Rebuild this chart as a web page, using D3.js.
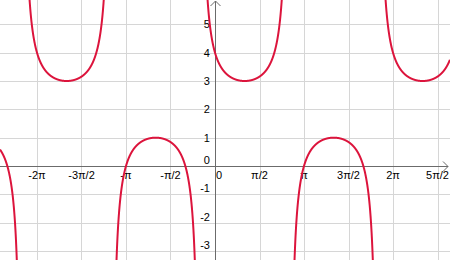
<!DOCTYPE html>
<html>
<head>
<meta charset="utf-8">
<script src="https://cdn.jsdelivr.net/npm/d3@7"></script>
<style>
  html, body { margin: 0; padding: 0; background: #fff; }
  svg { display: block; }
</style>
</head>
<body>
<div id="chart"></div>
<script>
const PI = Math.PI;

// x grid / tick positions (multiples of pi/2) and their labels
const xTickValues = [-2 * PI, -3 * PI / 2, -PI, -PI / 2, PI / 2, PI, 3 * PI / 2, 2 * PI, 5 * PI / 2];
const xTickLabels = ["-2π", "-3π/2", "-π", "-π/2", "π/2", "π", "3π/2", "2π", "5π/2"];
const yTickValues = [-3, -2, -1, 0, 1, 2, 3, 4, 5];
const yTickLabels = ["-3", "-2", "-1", "0", "1", "2", "3", "4", "5"];

// plotted function y = shift + amplitude / sin(x + phase)
const curveShift = 2;
const curveAmplitude = 1;
const curvePhase = PI / 6;

const width = 450;
const height = 260;

const x = d3.scaleLinear()
    .domain([-7.589, 8.295])
    .range([0, width]);

const y = d3.scaleLinear()
    .domain([-3.318, 5.859])
    .range([height, 0]);

const svg = d3.select("#chart")
    .append("svg")
    .attr("width", width)
    .attr("height", height);

// grid
svg.append("g")
    .selectAll("line")
    .data(xTickValues)
    .join("line")
    .attr("x1", d => Math.round(x(d)) + 0.5)
    .attr("x2", d => Math.round(x(d)) + 0.5)
    .attr("y1", 0)
    .attr("y2", height)
    .attr("stroke", "#d6d6d6")
    .attr("stroke-width", 1);

svg.append("g")
    .selectAll("line")
    .data(yTickValues.filter(d => d !== 0))
    .join("line")
    .attr("x1", 0)
    .attr("x2", width)
    .attr("y1", d => Math.round(y(d)) + 0.5)
    .attr("y2", d => Math.round(y(d)) + 0.5)
    .attr("stroke", "#d6d6d6")
    .attr("stroke-width", 1);

// axes
const x0 = Math.round(x(0)) + 0.5;
const y0 = Math.round(y(0)) + 0.5;
const axisColor = "#6b6b6b";

svg.append("line")
    .attr("x1", 0).attr("x2", width - 2)
    .attr("y1", y0).attr("y2", y0)
    .attr("stroke", axisColor);

svg.append("line")
    .attr("x1", x0).attr("x2", x0)
    .attr("y1", 1).attr("y2", height)
    .attr("stroke", axisColor);

// arrow heads
svg.append("path")
    .attr("d", `M${width - 7},${y0 - 5}L${width - 2},${y0}L${width - 7},${y0 + 5}`)
    .attr("fill", "none")
    .attr("stroke", axisColor);

svg.append("path")
    .attr("d", `M${x0 - 5},${6}L${x0},${1}L${x0 + 5},${6}`)
    .attr("fill", "none")
    .attr("stroke", axisColor);

// tick labels
const font = "'Liberation Sans', Arial, sans-serif";

svg.append("g")
    .selectAll("text")
    .data(xTickValues)
    .join("text")
    .attr("x", d => x(d))
    .attr("y", y(0) + 13)
    .attr("text-anchor", "middle")
    .attr("font-family", font)
    .attr("font-size", 11)
    .attr("fill", "#000")
    .text((d, i) => xTickLabels[i]);

svg.append("text")
    .attr("x", x(0) + 4)
    .attr("y", y(0) + 13)
    .attr("text-anchor", "middle")
    .attr("font-family", font)
    .attr("font-size", 11)
    .attr("fill", "#000")
    .text("0");

svg.append("g")
    .selectAll("text")
    .data(yTickValues)
    .join("text")
    .attr("x", x(0) - 5)
    .attr("y", d => d > 0 ? y(d) + 4 : y(d) - 2)
    .attr("text-anchor", "end")
    .attr("font-family", font)
    .attr("font-size", 11)
    .attr("fill", "#000")
    .text((d, i) => yTickLabels[i]);

// curve
const f = t => curveShift + curveAmplitude / Math.sin(t + curvePhase);
const samples = d3.range(x.domain()[0], x.domain()[1], 0.002).map(t => [t, f(t)]);

const line = d3.line()
    .defined(d => Math.abs(d[1]) < 40)
    .x(d => x(d[0]))
    .y(d => y(d[1]));

svg.append("clipPath")
    .attr("id", "clip")
    .append("rect")
    .attr("width", width)
    .attr("height", height);

svg.append("path")
    .datum(samples)
    .attr("clip-path", "url(#clip)")
    .attr("fill", "none")
    .attr("stroke", "#dc143c")
    .attr("stroke-width", 2)
    .attr("d", line);
</script>
</body>
</html>
